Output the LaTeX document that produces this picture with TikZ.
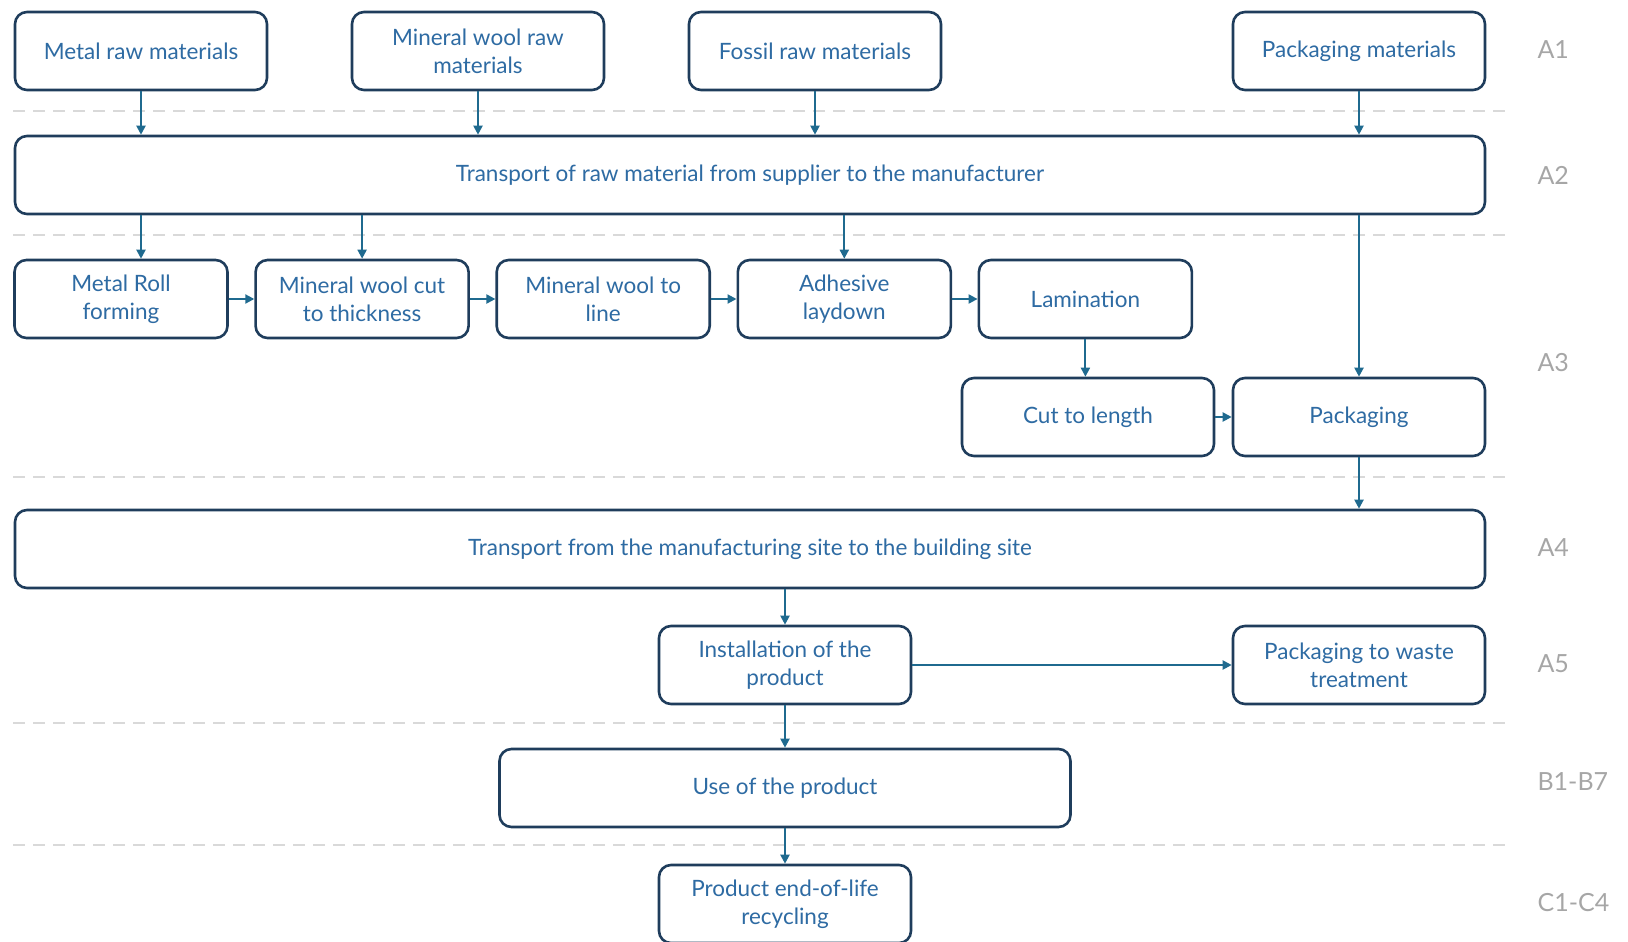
\documentclass[tikz,border=0pt]{standalone}
\usepackage{fontspec}
\setmainfont{Lato}
\usetikzlibrary{arrows.meta, positioning}

\definecolor{boxline}{HTML}{1F3D5C}
\definecolor{flowline}{HTML}{1F6A8F}
\definecolor{boxtext}{HTML}{2E6BA3}
\definecolor{stagegrey}{HTML}{A6A6A6}
\definecolor{dashgrey}{HTML}{D9D9D9}

\begin{document}
\begin{tikzpicture}[x=1pt,y=-1pt,>={Triangle[length=9pt,width=9pt]},
        proc/.style={draw=boxline,line width=2.6pt,rounded corners=12pt,fill=white,
            text=boxtext,font=\fontsize{22.5}{28}\selectfont,align=center,
            minimum width=252pt,minimum height=78pt,inner sep=0pt},
        small/.style={proc,minimum width=213pt},
        wide/.style={proc,minimum width=1470pt},
        stage/.style={anchor=west,text=stagegrey,font=\fontsize{25}{28}\selectfont},
        divider/.style={dashgrey,line width=2.6pt,dash pattern=on 12pt off 8pt},
        flow/.style={->,flowline,line width=2pt}]

        \useasboundingbox (0,0) rectangle (1628,942);

        % stage separators
        \foreach \y in {111,235,477,723,845}
            \draw[divider] (13,\y) -- (1510,\y);

        % A1
        \node[proc] (metalraw) at (141,51) {Metal raw materials};
        \node[proc] (woolraw) at (478,51) {Mineral wool raw\\materials};
        \node[proc] (fossil) at (815,51) {Fossil raw materials};
        \node[proc] (packmat) at (1359,51) {Packaging materials};

        % A2
        \node[wide] (transport) at (750,175) {Transport of raw material from supplier to the manufacturer};

        % A3
        \node[small] (rollform) at (121,299) {Metal Roll\\forming};
        \node[small] (woolcut) [right=25.5pt of rollform] {Mineral wool cut\\to thickness};
        \node[small] (woolline) [right=25.5pt of woolcut] {Mineral wool to\\line};
        \node[small] (adhesive) [right=25.5pt of woolline] {Adhesive\\laydown};
        \node[small] (lamination) [right=25.5pt of adhesive] {Lamination};
        \node[proc] (cutlen) at (1088,417) {Cut to length};
        \node[proc] (packaging) at (1359,417) {Packaging};

        % A4
        \node[wide] (delivery) at (750,549) {Transport from the manufacturing site to the building site};

        % A5, B, C
        \node[proc] (install) at (785,665) {Installation of the\\product};
        \node[proc] (packwaste) at (1359,665) {Packaging to waste\\treatment};
        \node[proc,minimum width=571pt] (use) at (785,788) {Use of the product};
        \node[proc] (endlife) at (785,904) {Product end-of-life\\recycling};

        % stage labels
        \node[stage] (lblA1) at (1534,50) {A1};
        \node[stage] (lblA2) at (1534,175) {A2};
        \node[stage] (lblA3) at (1534,363) {A3};
        \node[stage] (lblA4) at (1534,548) {A4};
        \node[stage] (lblA5) at (1534,664) {A5};
        \node[stage] (lblB) at (1534,782) {B1-B7};
        \node[stage] (lblC) at (1534,903) {C1-C4};

        % flows
        \foreach \src in {metalraw,woolraw,fossil,packmat}
            \draw[flow] (\src.south) -- (\src.south |- transport.north);
        \draw[flow] (transport.south -| metalraw) -- (metalraw |- rollform.north);
        \draw[flow] (transport.south -| woolcut) -- (woolcut.north);
        \draw[flow] (transport.south -| adhesive) -- (adhesive.north);
        \draw[flow] (transport.south -| packaging) -- (packaging.north);
        \draw[flow] (rollform) -- (woolcut);
        \draw[flow] (woolcut) -- (woolline);
        \draw[flow] (woolline) -- (adhesive);
        \draw[flow] (adhesive) -- (lamination);
        \draw[flow] (lamination.south) -- (lamination.south |- cutlen.north);
        \draw[flow] (cutlen) -- (packaging);
        \draw[flow] (packaging.south) -- (packaging.south |- delivery.north);
        \draw[flow] (delivery.south -| install) -- (install.north);
        \draw[flow] (install) -- (packwaste);
        \draw[flow] (install) -- (use);
        \draw[flow] (use) -- (endlife);
    \end{tikzpicture}
\end{document}
